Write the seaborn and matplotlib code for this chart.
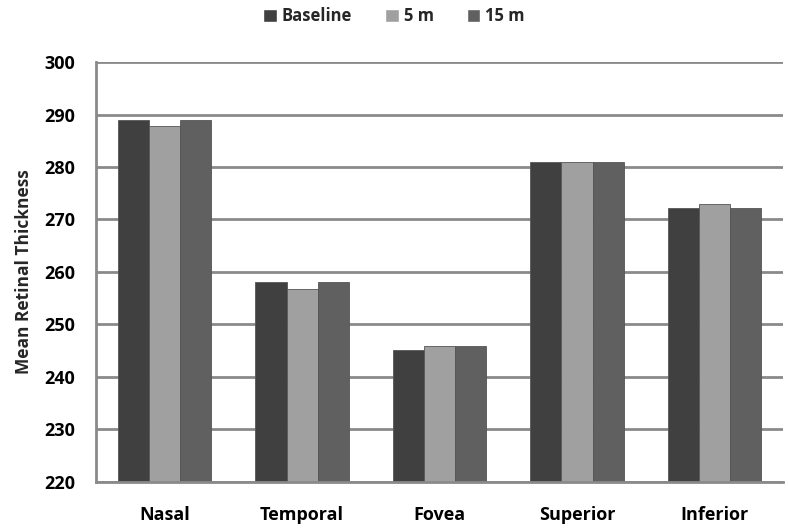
import pandas as pd
import matplotlib.pyplot as plt
import seaborn as sns

regions = ["Nasal", "Temporal", "Fovea", "Superior", "Inferior"]
baseline = [288.9, 258.0, 245.1, 281.0, 272.1]
five_m = [287.8, 256.8, 245.9, 281.0, 272.9]
fifteen_m = [289.0, 258.0, 245.9, 281.0, 272.1]
series = ["Baseline", "5 m", "15 m"]
colors = ["#404040", "#a0a0a0", "#606060"]

df = pd.DataFrame({
    "region": regions * 3,
    "value": baseline + five_m + fifteen_m,
    "series": [s for s in series for _ in regions],
})

sns.set_style("white")
plt.rcParams["font.family"] = ["Open Sans", "DejaVu Sans"]

fig = plt.figure(figsize=(7.88, 5.3), dpi=100)
ax = fig.add_axes([0.1218, 0.0906, 0.872, 0.7924])

sns.barplot(data=df, x="region", y="value", hue="series", palette=colors,
            width=0.68, ax=ax, edgecolor="#555555", linewidth=0.6, legend=True)

ax.set_ylim(220, 300)
ax.set_yticks(range(220, 301, 10))
ax.set_xlim(-0.5, 4.5)
ax.yaxis.grid(True, color="#8a8a8a", linewidth=2)
ax.set_axisbelow(True)

for side in ["top", "right"]:
    ax.spines[side].set_visible(False)
for side in ["left", "bottom"]:
    ax.spines[side].set_color("#8a8a8a")
    ax.spines[side].set_linewidth(2)

# ticks between categories
ax.set_xticks([0.5, 1.5, 2.5, 3.5], minor=True)
ax.tick_params(axis="x", which="major", length=0, pad=17)
ax.tick_params(axis="x", which="minor", length=8, width=1.5, color="#8a8a8a",
               direction="out")
ax.tick_params(axis="y", length=9, width=1.5, color="#8a8a8a", direction="out",
               pad=6)

for lab in ax.get_xticklabels() + ax.get_yticklabels():
    lab.set_fontsize(13)
    lab.set_fontweight("bold")
    lab.set_color("black")

ax.set_xlabel("")
ax.set_ylabel("Mean Retinal Thickness", fontsize=12.5, fontweight="bold", labelpad=8)

ax.legend_.remove()
handles = [plt.Rectangle((0, 0), 1, 1, facecolor=c) for c in colors]
fig.legend(handles, series, loc="upper center", bbox_to_anchor=(0.5, 1.015),
           ncol=3, frameon=False, handlelength=0.8, handleheight=0.8,
           handletextpad=0.3, columnspacing=2.0,
           prop={"weight": "bold", "size": 12})

fig.savefig("out.png", dpi=100)
